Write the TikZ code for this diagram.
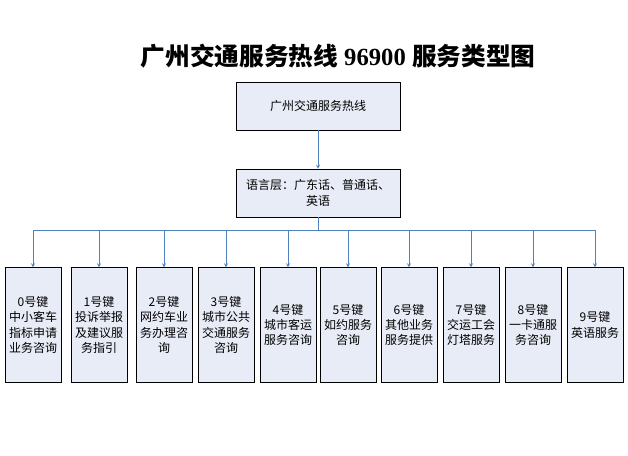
\documentclass[tikz,border=0pt]{standalone}
\usepackage{fontspec}
\setmainfont{Liberation Serif}
\newfontfamily\cjk{Noto Sans CJK SC}
\usetikzlibrary{arrows,positioning,calc}
\definecolor{boxfill}{RGB}{232,236,246}
\definecolor{linkblue}{RGB}{79,129,189}
\begin{document}
\begin{tikzpicture}[
    x=0.75pt, y=-0.75pt,
    every node/.style={font=\fontsize{9}{11.5}\selectfont\cjk},
    topbox/.style={rectangle, draw=black, fill=boxfill, minimum width=123pt, minimum height=36pt, align=center, inner sep=1pt},
    keybox/.style={rectangle, draw=black, fill=boxfill, minimum width=42pt, minimum height=86pt, text width=40pt, align=center, inner sep=1pt},
    arrow/.style={->, >=stealth, color=linkblue}
]
\useasboundingbox (0,0) rectangle (628,455);

% Title
\node[font=\fontsize{18.5}{20}\selectfont\bfseries] (title) at (338,56) {{\cjk\bfseries 广州交通服务热线} 96900 {\cjk\bfseries 服务类型图}};

% Upper levels
\node[topbox] (hotline) at (318,106) {广州交通服务热线};
\node[topbox] (lang) at (318,193) {语言层：广东话、普通话、\\英语};
\coordinate (bus) at (318,230);

% Key boxes
\node[keybox] (k0) at (33,325) {0号键\\中小客车\\指标申请\\业务咨询};
\node[keybox] (k1) at (99,325) {1号键\\投诉举报\\及建议服\\务指引};
\node[keybox] (k2) at (164,325) {2号键\\网约车业\\务办理咨\\询};
\node[keybox] (k3) at (226,325) {3号键\\城市公共\\交通服务\\咨询};
\node[keybox] (k4) at (288,325) {4号键\\城市客运\\服务咨询};
\node[keybox] (k5) at (348,325) {5号键\\如约服务\\咨询};
\node[keybox] (k6) at (409,325) {6号键\\其他业务\\服务提供};
\node[keybox] (k7) at (471,325) {7号键\\交运工会\\灯塔服务};
\node[keybox] (k8) at (533,325) {8号键\\一卡通服\\务咨询};
\node[keybox] (k9) at (595,325) {9号键\\英语服务};

% Connections
\draw[arrow] (hotline) -- (lang);
\draw[linkblue] (lang.south) -- (bus);
\draw[linkblue] (k0.north |- bus) -- (k9.north |- bus);
\foreach \k in {k0,k1,k2,k3,k4,k5,k6,k7,k8,k9}
    \draw[arrow] (\k.north |- bus) -- (\k.north);

\end{tikzpicture}
\end{document}
